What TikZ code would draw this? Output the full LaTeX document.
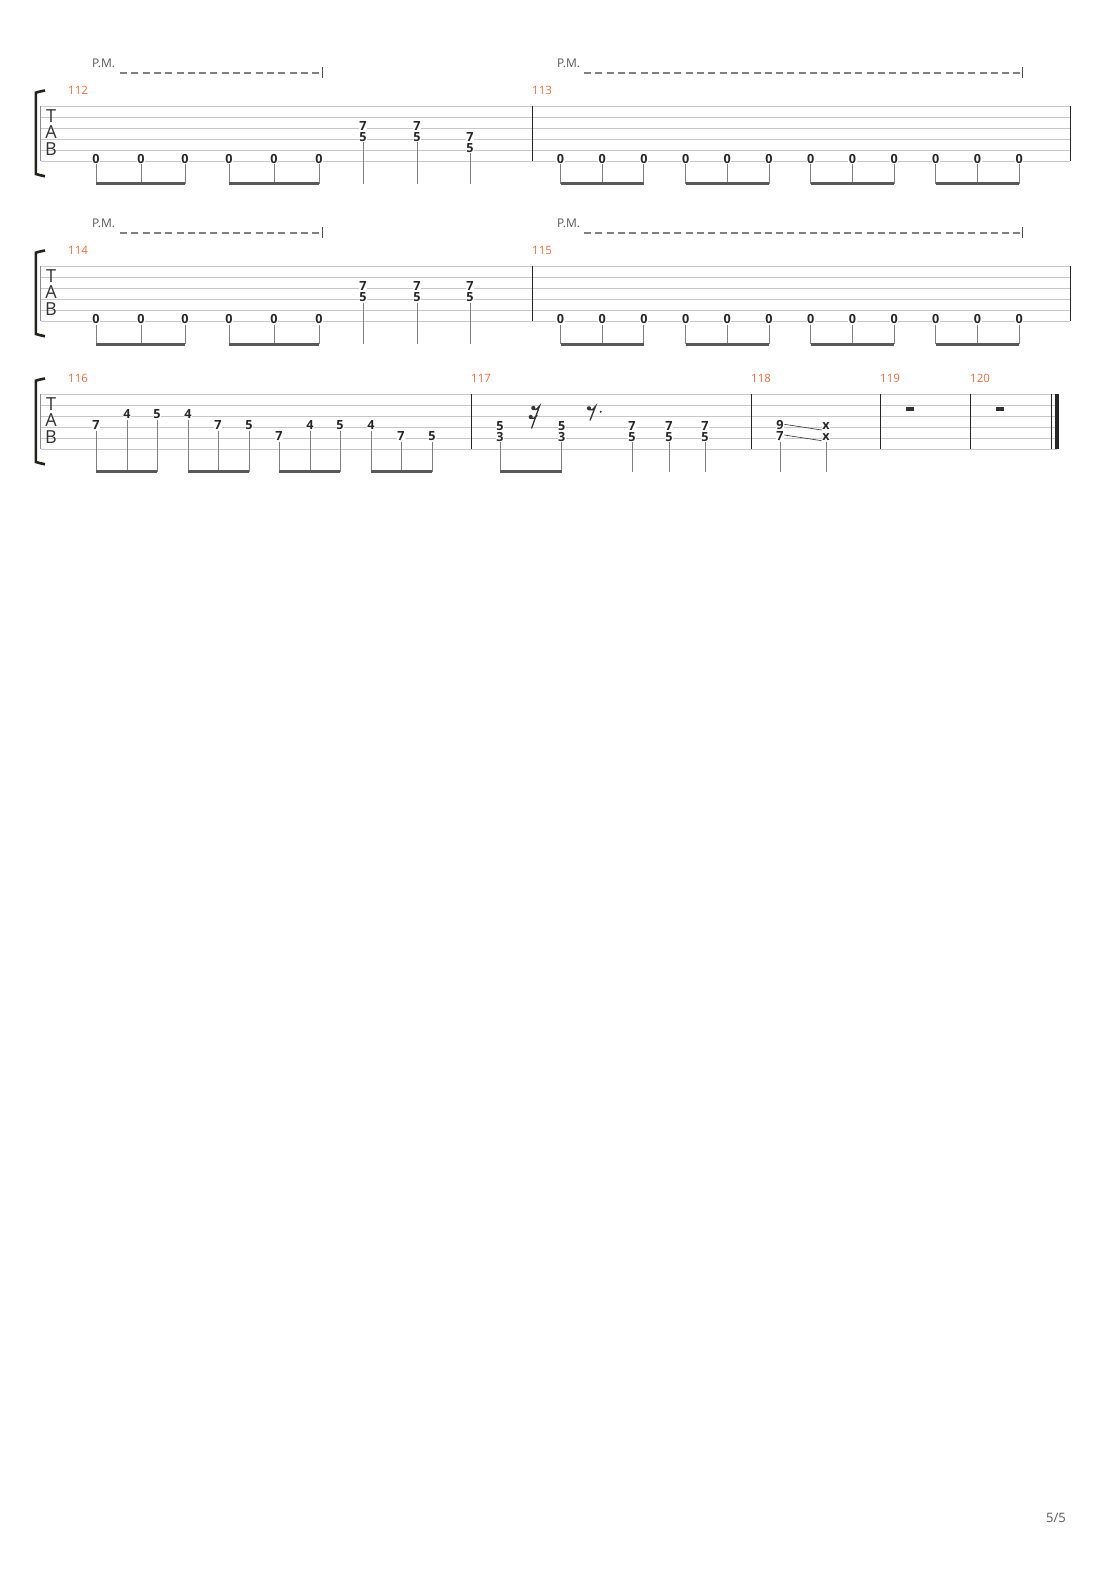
\documentclass[tikz,border=0pt]{standalone}
\usepackage{fontspec}
\setmainfont{Open Sans}
\definecolor{barnum}{HTML}{F26A3C}
\definecolor{bracket}{HTML}{23231A}

\begin{document}
\begin{tikzpicture}[x=1pt,y=-1pt]
  \tikzstyle{strline}=[draw=black!22,line width=0.8pt]
  \tikzstyle{barline}=[draw=black!85,line width=1pt]
  \tikzstyle{fret}=[fill=white,inner sep=0.5pt,text height=9pt,text depth=0pt,text=black!85,font=\bfseries\fontsize{12.6}{13}\selectfont]
  \tikzstyle{stem}=[draw=black!50,line width=0.9pt]
  \tikzstyle{beam}=[draw=black!65,line width=3pt]
  \tikzstyle{barno}=[anchor=west,inner sep=0pt,text=barnum,font=\fontsize{11.5}{12}\selectfont]
  \tikzstyle{pm}=[anchor=west,inner sep=0pt,text=black!65,font=\fontsize{12}{13}\selectfont]
  \tikzstyle{pmline}=[draw=black!50,line width=1.1pt,dash pattern=on 7pt off 4.3pt]
  \tikzstyle{pmtick}=[draw=black!70,line width=1pt]
  \tikzstyle{tabletter}=[inner sep=0pt,text=black!80,font=\fontsize{18}{18}\selectfont]
  \tikzstyle{brace}=[draw=bracket,line width=2.6pt]
  \tikzstyle{rest}=[fill=black!80]
  \tikzstyle{reststroke}=[draw=black!80,line width=1.3pt]
  \tikzstyle{slide}=[draw=black!80,line width=0.6pt]

  \useasboundingbox (0,0) rectangle (1110,1570);
  \fill[white] (0,0) rectangle (1110,1570);

  \foreach \sy/\ex [count=\n] in {106.3/1070,266.3/1070,394.3/1057} {
    \foreach \k in {0,...,5}
      \draw[strline] (40.5,{\sy+11*\k}) -- (\ex,{\sy+11*\k});
    \draw[brace] (45,{\sy-15.8}) .. controls (39,{\sy-14.6}) .. (35.8,{\sy-13.6})
      -- (35.8,{\sy+67.7}) .. controls (39,{\sy+68.6}) .. (45,{\sy+70});
    \draw[black!45,line width=0.8pt] (40.5,\sy) -- (40.5,{\sy+55});
    \node[tabletter] (T\n) at (51,{\sy+9.7}) {T};
    \node[tabletter] (A\n) at (51,{\sy+26.2}) {A};
    \node[tabletter] (B\n) at (51,{\sy+42.7}) {B};
  }

  \foreach \sy in {106.3,266.3}
    \foreach \x in {532.7,1070}
      \draw[barline] (\x,\sy) -- (\x,{\sy+55});
  \foreach \x in {471.7,751.7,880.7,970.7,1051.7}
    \draw[barline] (\x,394.3) -- (\x,449.3);
  \fill[black!85] (1055,394.3) rectangle (1059,449.3);

  \foreach \num/\x/\y in {112/68/90,113/532/90,114/68/250,115/532/250,
                          116/68/378,117/471/378,118/751/378,119/880/378,120/970/378}
    \node[barno] (m\num) at (\x,\y) {\num};

  \foreach \y/\a/\b/\c [count=\i] in {63/92/120/322,63/557/584/1022,223/92/120/322,223/557/584/1022} {
    \node[pm] (pm\i) at (\a,\y) {P.M.};
    \coordinate (pmstart\i) at (\b,{\y+10});
    \coordinate (pmend\i) at (\c,{\y+10});
    \draw[pmline] (pmstart\i) -- (pmend\i);
    \draw[pmtick] ([yshift=5.5pt]pmend\i) -- ([yshift=-5.5pt]pmend\i);
  }

  \foreach \dy/\s [count=\k] in {0/139.3,160/128.3} {
    \coordinate (base\k) at (0,{184+\dy});
    \foreach \x [count=\i] in {96,141,185,229,274,319} {
      \node[fret] (z\k-\i) at (\x,{159.3+\dy}) {0};
      \draw[stem] (z\k-\i.south) -- (z\k-\i |- base\k);
    }
    \foreach \f/\t in {1/3,4/6}
      \draw[beam] (z\k-\f |- base\k) -- (z\k-\t |- base\k);
    \foreach \x/\t [count=\i] in {363/128.3,417/128.3,470/\s} {
      \node[fret] (c\k-\i) at (\x,{\t-2+\dy}) {7};
      \node[fret] (d\k-\i) at (\x,{\t+9+\dy}) {5};
      \draw[stem] (d\k-\i.south) -- (d\k-\i |- base\k);
    }
    \foreach \i in {1,...,12} {
      \node[fret] (y\k-\i) at ({560.5+41.7*(\i-1)},{159.3+\dy}) {0};
      \draw[stem] (y\k-\i.south) -- (y\k-\i |- base\k);
    }
    \foreach \f/\t in {1/3,4/6,7/9,10/12}
      \draw[beam] (y\k-\f |- base\k) -- (y\k-\t |- base\k);
  }

  \coordinate (base3) at (0,471.7);
  \foreach \x/\s/\f [count=\i] in {96/427.3/7,127/416.3/4,157/416.3/5,188/416.3/4,
      218/427.3/7,249/427.3/5,279/438.3/7,310/427.3/4,340/427.3/5,371/427.3/4,
      401/438.3/7,432/438.3/5} {
    \node[fret] (p\i) at (\x,{\s-2}) {\f};
    \draw[stem] (p\i.south) -- (p\i |- base3);
  }
  \foreach \f/\t in {1/3,4/6,7/9,10/12}
    \draw[beam] (p\f |- base3) -- (p\t |- base3);

  \foreach \x/\u/\l [count=\i] in {500/5/3,561.7/5/3,632/7/5,669/7/5,705/7/5} {
    \node[fret] (q\i) at (\x,425.6) {\u};
    \node[fret] (qq\i) at (\x,436.6) {\l};
    \draw[stem] (qq\i.south) -- (qq\i |- base3);
  }
  \draw[beam] (qq1 |- base3) -- (qq2 |- base3);

  \node[fret] (r1) at (780,425.3) {9};
  \node[fret] (r2) at (780,436.3) {7};
  \node[fret] (r3) at (826,425.3) {x};
  \node[fret] (r4) at (826,436.3) {x};
  \draw[slide] ([yshift=1pt]r1.east) -- ([yshift=-4.7pt]r3.west);
  \draw[slide] ([yshift=1.3pt]r2.east) -- ([yshift=-4.4pt]r4.west);
  \foreach \i in {2,4}
    \draw[stem] (r\i.south) -- (r\i |- base3);

  % rests
  \fill[rest] (533.3,408) circle (2.1pt);
  \fill[rest] (530.7,417) circle (2.1pt);
  \draw[reststroke] (533.3,409.2) .. controls (536,410) .. (539.5,406) -- (531.5,428.5);
  \draw[reststroke] (530.7,418.2) .. controls (533.5,419) .. (537.3,415);
  \fill[rest] (589,408.3) circle (2.1pt);
  \draw[reststroke] (589,409.5) .. controls (592,410.5) .. (595.5,406.3) -- (590,420.5);
  \fill[rest] (600.7,411.7) circle (1.1pt);
  \fill[rest] (905.7,407) rectangle (914,411.3);
  \fill[rest] (995.7,407) rectangle (1004,411.3);

  \node[text=black!65,font=\fontsize{13}{14}\selectfont] (page) at (1056,1518) {5/5};
\end{tikzpicture}
\end{document}
